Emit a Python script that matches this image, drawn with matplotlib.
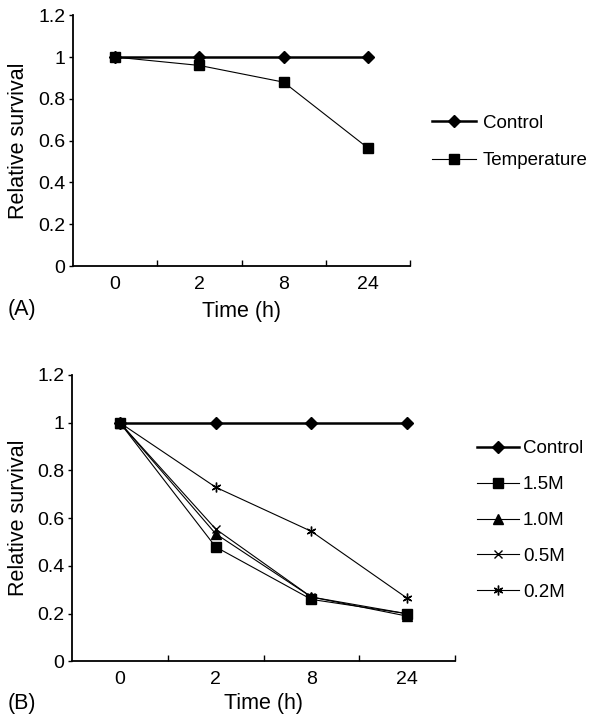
import matplotlib
matplotlib.use("Agg")
import matplotlib.pyplot as plt

plt.rcParams['font.family'] = ['Liberation Sans', 'DejaVu Sans']

time_labels = ["0", "2", "8", "24"]
yticks = [0, 0.2, 0.4, 0.6, 0.8, 1.0, 1.2]
ytick_labels = ["0", "0.2", "0.4", "0.6", "0.8", "1", "1.2"]

# Panel A
a_control = [1.0, 1.0, 1.0, 1.0]
a_temperature = [1.0, 0.96, 0.88, 0.565]

# Panel B
b_control = [1.0, 1.0, 1.0, 1.0]
b_15M = [1.0, 0.48, 0.26, 0.20]
b_10M = [1.0, 0.535, 0.27, 0.19]
b_05M = [1.0, 0.555, 0.27, 0.20]
b_02M = [1.0, 0.73, 0.545, 0.265]

TICK_FS = 14
LABEL_FS = 15.5
LEG_FS = 13.5

fig = plt.figure(figsize=(6.01, 7.25), dpi=100)
axA = fig.add_axes([0.1215, 0.6331, 0.5607, 0.3458])
axB = fig.add_axes([0.1198, 0.0876, 0.6373, 0.3952])

x = list(range(len(time_labels)))

def style(ax, xlab_y, ylab_x):
    ax.set_xlim(-0.5, 3.5)
    ax.set_ylim(0, 1.2)
    ax.spines['top'].set_visible(False)
    ax.spines['right'].set_visible(False)
    ax.spines['left'].set_linewidth(1.3)
    ax.spines['bottom'].set_linewidth(1.3)
    ax.set_yticks(yticks)
    ax.set_yticklabels(ytick_labels, fontsize=TICK_FS)
    ax.tick_params(axis='y', direction='out', length=3, width=1.0, pad=2.5)
    ax.set_xticks([0.5, 1.5, 2.5, 3.5])
    ax.set_xticklabels([])
    ax.tick_params(axis='x', direction='in', length=4, width=1.0)
    ax.set_xticks(x, minor=True)
    ax.set_xticklabels(time_labels, minor=True, fontsize=TICK_FS)
    ax.tick_params(axis='x', which='minor', length=0, pad=7)
    ax.set_ylabel("Relative survival", fontsize=LABEL_FS)
    ax.set_xlabel("Time (h)", fontsize=LABEL_FS)
    ax.xaxis.set_label_coords(0.5, xlab_y)
    ax.yaxis.set_label_coords(ylab_x, 0.5)

axA.plot(x, a_control, color='black', lw=1.8, marker='D', ms=6, label='Control')
axA.plot(x, a_temperature, color='black', lw=0.8, marker='s', ms=7, label='Temperature')
style(axA, -0.14, -0.13)
axA.legend(loc='center left', bbox_to_anchor=(0.7188, 0.804), bbox_transform=fig.transFigure,
           frameon=False, fontsize=LEG_FS, handlelength=2.35, handletextpad=0.35,
           labelspacing=1.08, borderpad=0, borderaxespad=0)
fig.text(0.012, 1 - 310 / 725, "(A)", fontsize=LABEL_FS, va='center', ha='left')

axB.plot(x, b_control, color='black', lw=1.8, marker='D', ms=6, label='Control')
axB.plot(x, b_15M, color='black', lw=0.8, marker='s', ms=7, label='1.5M')
axB.plot(x, b_10M, color='black', lw=0.8, marker='^', ms=7, label='1.0M')
axB.plot(x, b_05M, color='black', lw=0.8, marker='x', ms=6, mew=1.0, label='0.5M')
axB.plot(x, b_02M, color='black', lw=0.8, marker=(6, 2, 0), ms=7, mew=1.0, label='0.2M')
style(axB, -0.11, -0.112)
axB.legend(loc='center left', bbox_to_anchor=(0.7937, 0.282), bbox_transform=fig.transFigure,
           frameon=False, fontsize=LEG_FS, handlelength=2.25, handletextpad=0.2,
           labelspacing=1.0, borderpad=0, borderaxespad=0)
fig.text(0.012, 1 - 704 / 725, "(B)", fontsize=LABEL_FS, va='center', ha='left')

fig.savefig("out.png", dpi=100)
